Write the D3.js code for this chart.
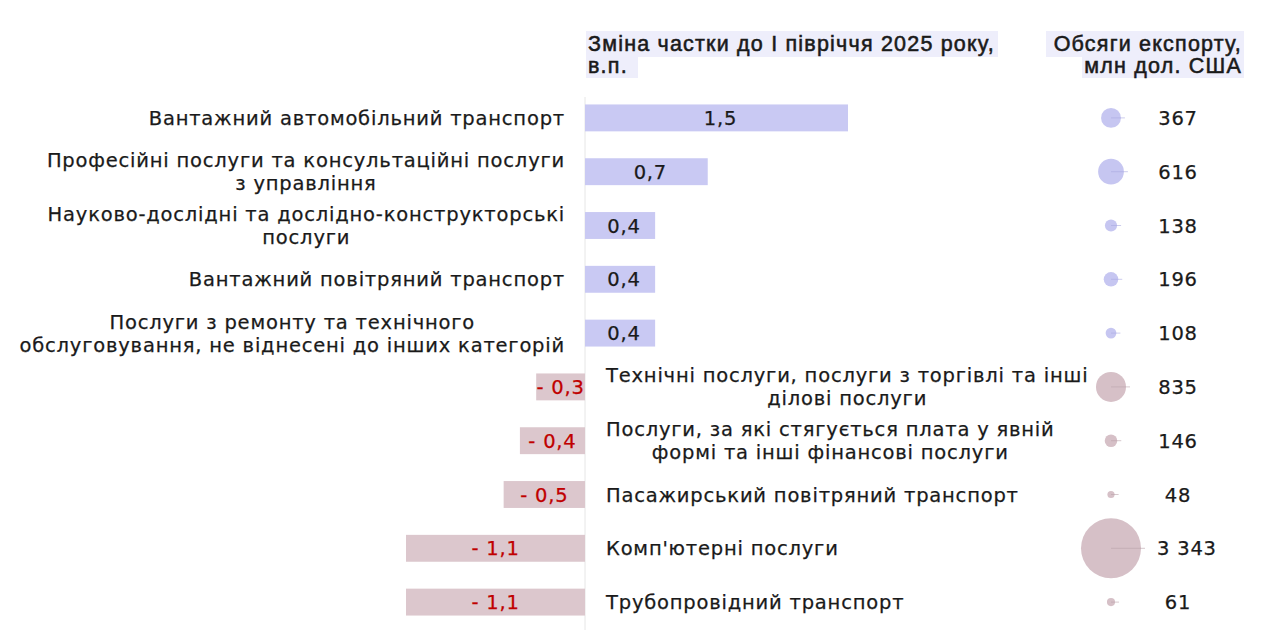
<!DOCTYPE html>
<html><head><meta charset="utf-8">
<script src="https://cdn.jsdelivr.net/npm/d3@7"></script>
<style>
body{margin:0;background:#fff;}
text{font-family:"DejaVu Sans",sans-serif;}
text.lab{letter-spacing:0.8px;stroke:#1a1a1a;stroke-width:0.25px;}
text.neg{stroke:#c00000;}
text.ttl{font-family:"Liberation Sans",Arial,sans-serif;font-weight:400;stroke:#1a1a1a;stroke-width:0.55px;letter-spacing:1.2px;}
</style></head><body>
<svg id="c" width="1280" height="635"></svg>
<script>
const categories = [
  ["Вантажний автомобільний транспорт"],
  ["Професійні послуги та консультаційні послуги","з управління"],
  ["Науково-дослідні та дослідно-конструкторські","послуги"],
  ["Вантажний повітряний транспорт"],
  ["Послуги з ремонту та технічного","обслуговування, не віднесені до інших категорій"],
  ["Технічні послуги, послуги з торгівлі та інші","ділові послуги"],
  ["Послуги, за які стягується плата у явній","формі та інші фінансові послуги"],
  ["Пасажирський повітряний транспорт"],
  ["Комп'ютерні послуги"],
  ["Трубопровідний транспорт"]
];
const shareChange = [1.5, 0.7, 0.4, 0.4, 0.4, -0.3, -0.4, -0.5, -1.1, -1.1];
const exportVolume = [367, 616, 138, 196, 108, 835, 146, 48, 3343, 61];
const titleLeft = ["Зміна частки до І півріччя 2025 року,", "в.п."];
const titleRight = ["Обсяги експорту,", "млн дол. США"];

const svg = d3.select("#c");
const posBar = "#c9c9f3", negBar = "#dcc7cd";
const posDot = "#c6c6f1", negDot = "#d6c0c7";
const FS = 19.5;

const x = d3.scaleLinear().domain([-1.1, 0, 1.5]).range([406, 585, 848]);
const y = d3.scaleBand().domain(d3.range(categories.length)).range([91, 629]).paddingInner(0.5).paddingOuter(0.25);
const r = d3.scaleSqrt().domain([0, 3343]).range([0, 30]);
const cx = 1111;
const fmt = v => (v < 0 ? "- " : "") + d3.format(".1f")(Math.abs(v)).replace(".", ",");
const fmtVol = v => d3.format(",")(v).replace(/,/g, " ");

// header backgrounds
svg.append("rect").attr("x", 586).attr("y", 31).attr("width", 412).attr("height", 26).attr("fill", "#eeeefb");
svg.append("rect").attr("x", 586).attr("y", 57).attr("width", 52).attr("height", 21).attr("fill", "#eeeefb");
svg.append("rect").attr("x", 1046).attr("y", 31).attr("width", 198).attr("height", 26).attr("fill", "#eeeefb");
svg.append("rect").attr("x", 1082).attr("y", 57).attr("width", 162).attr("height", 21).attr("fill", "#eeeefb");

const TFS = 21.5;
svg.append("text").attr("class", "ttl").attr("x", 588).attr("y", 51).attr("font-size", TFS).attr("fill", "#1a1a1a")
  .selectAll("tspan").data(titleLeft).join("tspan").attr("x", 588).attr("dy", (d, i) => i ? 22 : 0).text(d => d);
svg.append("text").attr("class", "ttl").attr("x", 1242).attr("y", 51).attr("font-size", TFS).attr("fill", "#1a1a1a").attr("text-anchor", "end")
  .selectAll("tspan").data(titleRight).join("tspan").attr("x", 1242).attr("dy", (d, i) => i ? 22 : 0).text(d => d);

// zero line
svg.append("line").attr("x1", x(0)).attr("x2", x(0)).attr("y1", 97).attr("y2", 630).attr("stroke", "#e6e6e6").attr("stroke-width", 1);

const rows = svg.selectAll("g.row").data(categories.map((c, i) => ({c, v: shareChange[i], vol: exportVolume[i], i})))
  .join("g").attr("class", "row");

rows.append("rect")
  .attr("x", d => x(Math.min(0, d.v)))
  .attr("y", d => y(d.i))
  .attr("width", d => Math.abs(x(d.v) - x(0)))
  .attr("height", y.bandwidth())
  .attr("fill", d => d.v >= 0 ? posBar : negBar);

rows.append("text")
  .attr("class", d => d.v >= 0 ? "lab" : "lab neg")
  .attr("x", d => (x(d.v) + x(0)) / 2 + (d.v >= 0 ? 4 : 0))
  .attr("y", d => y(d.i) + y.bandwidth() / 2 + 7)
  .attr("text-anchor", "middle")
  .attr("font-size", FS)
  .attr("fill", d => d.v >= 0 ? "#1a1a1a" : "#c00000")
  .text(d => fmt(d.v));

// category labels
rows.append("text").attr("class", "lab cat")
  .attr("font-size", FS).attr("fill", "#1a1a1a")
  .attr("text-anchor", d => d.v >= 0 ? "end" : "start")
  .each(function(d) {
    const t = d3.select(this);
    const cy = y(d.i) + y.bandwidth() / 2;
    const n = d.c.length;
    const tx = d.v >= 0 ? 565 : 606;
    d.c.forEach((line, k) => {
      t.append("tspan").attr("x", tx).attr("y", cy + 7 + (k - (n - 1) / 2) * 23).text(line);
    });
  });

rows.filter(d => d.c.length > 1).select("text.cat").each(function(d) {
  const t = d3.select(this);
  const widths = t.selectAll("tspan").nodes().map(n => n.getComputedTextLength());
  const maxW = Math.max(...widths);
  t.attr("text-anchor", "middle");
  t.selectAll("tspan").attr("x", d.v >= 0 ? 565 - maxW / 2 : 606 + maxW / 2);
});

// bubbles
rows.append("circle")
  .attr("cx", cx).attr("cy", d => y(d.i) + y.bandwidth() / 2)
  .attr("r", d => r(d.vol))
  .attr("fill", d => d.v >= 0 ? posDot : negDot);
rows.append("line")
  .attr("x1", cx).attr("x2", d => cx + r(d.vol) + 4)
  .attr("y1", d => y(d.i) + y.bandwidth() / 2).attr("y2", d => y(d.i) + y.bandwidth() / 2)
  .attr("stroke", d => d.v >= 0 ? "#a9a9e0" : "#bba3ab").attr("stroke-width", 0.6);
rows.append("text").attr("class", "lab")
  .attr("y", d => y(d.i) + y.bandwidth() / 2 + 7)
  .attr("text-anchor", "middle")
  .attr("font-size", FS).attr("fill", "#1a1a1a")
  .text(d => fmtVol(d.vol))
  .attr("x", function(d) {
    const w = this.getComputedTextLength();
    return Math.max(1178, cx + r(d.vol) + 16 + w / 2);
  });
</script></body></html>
